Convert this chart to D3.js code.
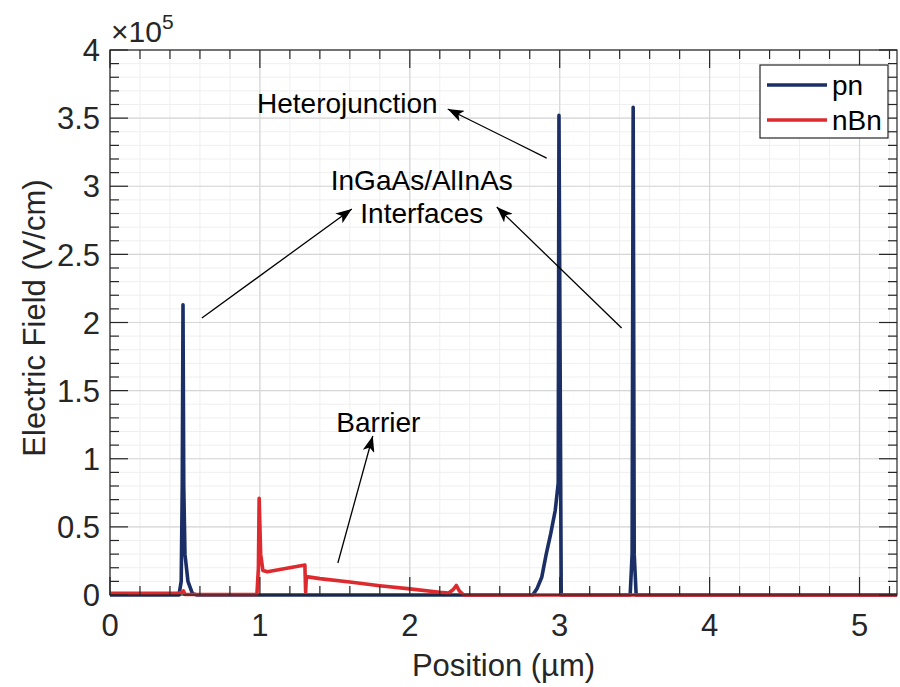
<!DOCTYPE html>
<html>
<head>
<meta charset="utf-8">
<script src="https://cdn.jsdelivr.net/npm/d3@7"></script>
<style>
  html, body { margin: 0; padding: 0; background: #ffffff; }
  svg { display: block; font-family: "Liberation Sans", Arial, Helvetica, sans-serif; }
</style>
</head>
<body>
<svg id="chart" width="900" height="687"></svg>
<script>
// ---------- data (field in units of 1e5 V/cm, position in µm) ----------
const pnX = [0, 0.46, 0.475, 0.482, 0.487, 0.492, 0.5, 0.52, 0.55, 0.58, 1.0, 2.0, 2.82, 2.85, 2.88, 2.91, 2.94, 2.97, 2.99, 2.995, 3.01, 3.02, 3.47, 3.483, 3.49, 3.497, 3.51, 5.25];
const pnY = [0, 0, 0.1, 0.8, 2.13, 0.8, 0.3, 0.1, 0.01, 0, 0, 0, 0, 0.05, 0.13, 0.3, 0.45, 0.62, 0.82, 3.52, 0, 0, 0, 0.3, 3.58, 0.3, 0, 0];

const nbnX = [0, 0.46, 0.48, 0.49, 0.5, 0.98, 0.99, 0.995, 1.005, 1.02, 1.05, 1.3, 1.305, 1.31, 1.4, 1.6, 1.8, 2.0, 2.2, 2.26, 2.29, 2.31, 2.33, 2.36, 5.25];
const nbnY = [0.012, 0.015, 0.02, 0.03, 0.004, 0.004, 0.2, 0.71, 0.3, 0.18, 0.17, 0.22, 0.02, 0.135, 0.12, 0.095, 0.068, 0.045, 0.02, 0.015, 0.04, 0.07, 0.03, 0.0, 0.0];

const seriesNames = ["pn", "nBn"];
const seriesColors = ["#1b2f66", "#dd2a2f"];

const xTicks = [0, 1, 2, 3, 4, 5];
const yTicks = [0, 0.5, 1, 1.5, 2, 2.5, 3, 3.5, 4];
const xMinor = d3.range(0, 5.25, 0.2);
const yMinor = d3.range(0, 4.001, 0.1);

// annotations (data coordinates)
const labelTexts = ["Heterojunction", "InGaAs/AlInAs", "Interfaces", "Barrier"];
const labelX = [1.583, 2.08, 2.08, 1.79];
const labelY = [3.611, 3.046, 2.804, 1.27];
const arrowX1 = [2.913, 0.613, 3.413, 1.52];
const arrowY1 = [3.207, 2.033, 1.96, 0.235];
const arrowX2 = [2.253, 1.613, 2.58, 1.753];
const arrowY2 = [3.567, 2.833, 2.848, 1.167];

// ---------- layout ----------
const svg = d3.select("#chart");
const L = 110, R = 897, T = 50, B = 595;
const x = d3.scaleLinear().domain([0, 5.25]).range([L, R]);
const y = d3.scaleLinear().domain([0, 4]).range([B, T]);
const axisCol = "#262626";
const fontTick = 31;

// minor grid
svg.append("g").selectAll("line.vx").data(xMinor).join("line")
  .attr("x1", d => x(d)).attr("x2", d => x(d)).attr("y1", T).attr("y2", B)
  .attr("stroke", "#efefef").attr("stroke-width", 1);
svg.append("g").selectAll("line.hy").data(yMinor).join("line")
  .attr("y1", d => y(d)).attr("y2", d => y(d)).attr("x1", L).attr("x2", R)
  .attr("stroke", "#efefef").attr("stroke-width", 1);
// major grid
svg.append("g").selectAll("line").data(xTicks).join("line")
  .attr("x1", d => x(d)).attr("x2", d => x(d)).attr("y1", T).attr("y2", B)
  .attr("stroke", "#d6d6d6").attr("stroke-width", 1.2);
svg.append("g").selectAll("line").data(yTicks).join("line")
  .attr("y1", d => y(d)).attr("y2", d => y(d)).attr("x1", L).attr("x2", R)
  .attr("stroke", "#d6d6d6").attr("stroke-width", 1.2);

// ---------- lines ----------
const line = d3.line().x(d => x(d[0])).y(d => y(d[1]));
const pnData = pnX.map((v, i) => [v, pnY[i]]);
const nbnData = nbnX.map((v, i) => [v, nbnY[i]]);
const plot = svg.append("g");
plot.append("path").datum(pnData).attr("d", line)
  .attr("fill", "none").attr("stroke", seriesColors[0]).attr("stroke-width", 3.6)
  .attr("stroke-linejoin", "round");
plot.append("path").datum(nbnData).attr("d", line)
  .attr("fill", "none").attr("stroke", seriesColors[1]).attr("stroke-width", 3.6)
  .attr("stroke-linejoin", "round");

// ---------- axes (ticks inward, box) ----------
const tickMajor = 18, tickMinor = 9;
const ax = svg.append("g").attr("stroke", axisCol).attr("stroke-width", 1.2);
ax.append("rect").attr("x", L).attr("y", T).attr("width", R - L).attr("height", B - T)
  .attr("fill", "none");
xMinor.forEach(v => {
  const len = xTicks.some(t => Math.abs(t - v) < 1e-6) ? tickMajor : tickMinor;
  ax.append("line").attr("x1", x(v)).attr("x2", x(v)).attr("y1", B).attr("y2", B - len);
  ax.append("line").attr("x1", x(v)).attr("x2", x(v)).attr("y1", T).attr("y2", T + len);
});
yMinor.forEach(v => {
  const len = yTicks.some(t => Math.abs(t - v) < 1e-6) ? tickMajor : tickMinor;
  ax.append("line").attr("y1", y(v)).attr("y2", y(v)).attr("x1", L).attr("x2", L + len);
  ax.append("line").attr("y1", y(v)).attr("y2", y(v)).attr("x1", R).attr("x2", R - len);
});

// tick labels
svg.append("g").selectAll("text").data(xTicks).join("text")
  .attr("x", d => x(d)).attr("y", B + 41)
  .attr("text-anchor", "middle").attr("font-size", fontTick).attr("fill", axisCol)
  .text(d => d3.format("~g")(d));
svg.append("g").selectAll("text").data(yTicks).join("text")
  .attr("x", L - 10).attr("y", d => y(d)).attr("dy", "0.36em")
  .attr("text-anchor", "end").attr("font-size", fontTick).attr("fill", axisCol)
  .text(d => d3.format("~g")(d));

// exponent
const ex = svg.append("text").attr("x", L + 1).attr("y", 42).attr("fill", axisCol).attr("font-size", 30);
ex.append("tspan").text("\u00d710");
ex.append("tspan").attr("dy", -13).attr("font-size", 21).text("5");

// axis titles
svg.append("text").attr("x", (L + R) / 2).attr("y", 676)
  .attr("text-anchor", "middle").attr("font-size", 31).attr("fill", axisCol)
  .text("Position (\u00b5m)");
svg.append("text").attr("transform", `translate(45,318) rotate(-90)`)
  .attr("text-anchor", "middle").attr("font-size", 31).attr("fill", axisCol)
  .text("Electric Field (V/cm)");

// ---------- annotations ----------
const defs = svg.append("defs");
defs.append("marker").attr("id", "ah").attr("viewBox", "0 0 16 12")
  .attr("refX", 16).attr("refY", 6).attr("markerWidth", 16).attr("markerHeight", 12)
  .attr("markerUnits", "userSpaceOnUse").attr("orient", "auto")
  .append("path").attr("d", "M0,0 L16,6 L0,12 L4,6 Z").attr("fill", "#000");

const ann = svg.append("g");
arrowX1.forEach((v, i) => {
  ann.append("line")
    .attr("x1", x(v)).attr("y1", y(arrowY1[i]))
    .attr("x2", x(arrowX2[i])).attr("y2", y(arrowY2[i]))
    .attr("stroke", "#000").attr("stroke-width", 1.3)
    .attr("marker-end", "url(#ah)");
});
labelTexts.forEach((t, i) => {
  ann.append("text").attr("x", x(labelX[i])).attr("y", y(labelY[i])).attr("dy", "0.36em")
    .attr("text-anchor", "middle").attr("font-size", 28).attr("fill", "#000").text(t);
});

// ---------- legend ----------
const lg = svg.append("g");
lg.append("rect").attr("x", 760).attr("y", 65).attr("width", 128).attr("height", 73)
  .attr("fill", "#fff").attr("stroke", axisCol).attr("stroke-width", 1.2);
seriesNames.forEach((n, i) => {
  const yy = 85 + i * 35;
  lg.append("line").attr("x1", 767).attr("x2", 827).attr("y1", yy).attr("y2", yy)
    .attr("stroke", seriesColors[i]).attr("stroke-width", 3.6);
  lg.append("text").attr("x", 832).attr("y", yy).attr("dy", "0.36em")
    .attr("font-size", 28).attr("fill", "#000").text(n);
});
</script>
</body>
</html>
